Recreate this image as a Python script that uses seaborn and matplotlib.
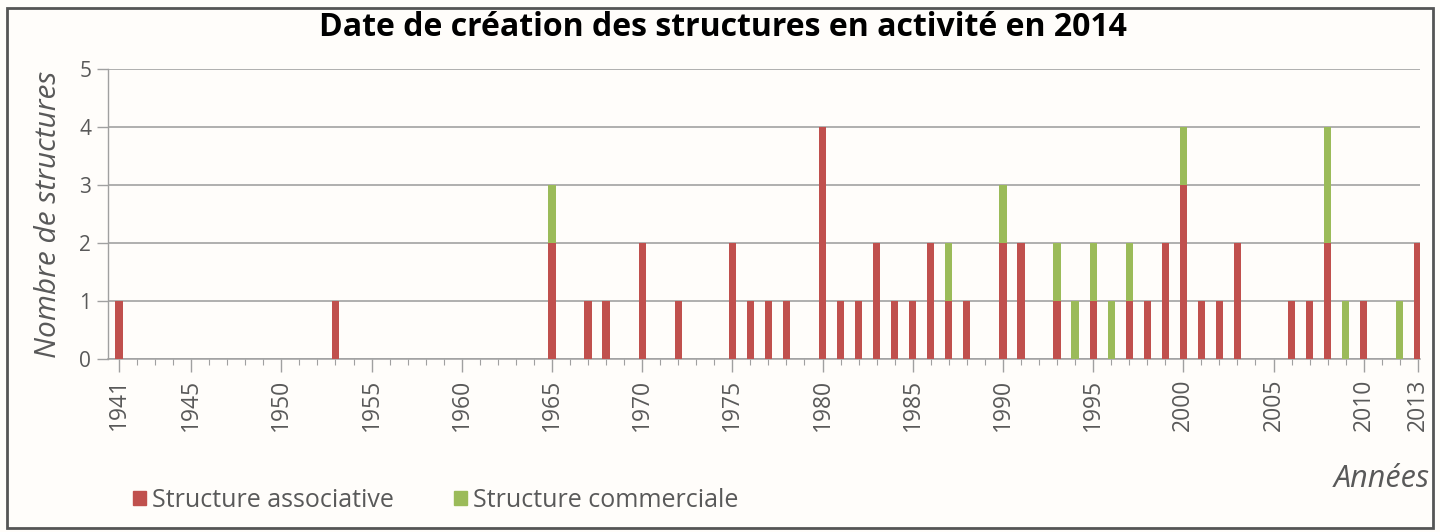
import matplotlib
matplotlib.use("Agg")
import matplotlib.pyplot as plt
import matplotlib.patches as mpatches
from matplotlib.ticker import MultipleLocator, FixedLocator
import seaborn as sns
import pandas as pd

# ---- data ----
years = [1941, 1953, 1965, 1967, 1968, 1970, 1972, 1975, 1976, 1977, 1978,
         1980, 1981, 1982, 1983, 1984, 1985, 1986, 1987, 1988, 1990, 1991,
         1993, 1994, 1995, 1996, 1997, 1998, 1999, 2000, 2001, 2002, 2003,
         2006, 2007, 2008, 2009, 2010, 2012, 2013]
associative = [1, 1, 2, 1, 1, 2, 1, 2, 1, 1, 1,
               4, 1, 1, 2, 1, 1, 2, 1, 1, 2, 2,
               1, 0, 1, 0, 1, 1, 2, 3, 1, 1, 2,
               1, 1, 2, 0, 1, 0, 2]
commerciale = [0, 0, 1, 0, 0, 0, 0, 0, 0, 0, 0,
               0, 0, 0, 0, 0, 0, 0, 1, 0, 1, 0,
               1, 1, 1, 1, 1, 0, 0, 1, 0, 0, 0,
               0, 0, 2, 1, 0, 1, 0]
tick_years = [1941, 1945, 1950, 1955, 1960, 1965, 1970, 1975, 1980,
              1985, 1990, 1995, 2000, 2005, 2010, 2013]
series_names = ["Structure associative", "Structure commerciale"]
title = "Date de création des structures en activité en 2014"

RED = "#C0504D"
GREEN = "#9BBB59"
GRAY = "#595959"
BG = "#FFFDFA"

df = pd.DataFrame({"year": years, "assoc": associative, "comm": commerciale})
df["total"] = df["assoc"] + df["comm"]

sns.set_style("white")
plt.rcParams["font.family"] = ["Open Sans", "DejaVu Sans"]

fig = plt.figure(figsize=(14.4, 5.32), dpi=100, facecolor=BG)
ax = fig.add_axes([0.075, 0.3252, 0.9111, 0.5451])
ax.set_facecolor(BG)

sns.barplot(data=df, x="year", y="total", native_scale=True, width=0.4,
            color=GREEN, saturation=1, ax=ax, zorder=3, linewidth=0)
sns.barplot(data=df, x="year", y="assoc", native_scale=True, width=0.4,
            color=RED, saturation=1, ax=ax, zorder=4, linewidth=0)

ax.set_xlim(1940.39, 2013.12)
ax.set_ylim(0, 5)
ax.yaxis.set_major_locator(MultipleLocator(1))
ax.grid(axis="y", color="#9a9a9a", linewidth=1.1, zorder=1)
ax.grid(axis="x", visible=False)

for s in ["top", "right"]:
    ax.spines[s].set_visible(False)
ax.spines["left"].set_color("#a0a0a0")
ax.spines["left"].set_linewidth(1.0)
ax.spines["bottom"].set_color("#a0a0a0")
ax.spines["bottom"].set_linewidth(1.1)

ax.xaxis.set_major_locator(FixedLocator(tick_years))
ax.xaxis.set_minor_locator(MultipleLocator(1))
ax.set_xticklabels([str(y) for y in tick_years], rotation=90, fontsize=16.5,
                   color=GRAY)
ax.tick_params(axis="x", which="major", bottom=True, length=9, width=1,
               color="#a0a0a0", pad=5)
ax.tick_params(axis="x", which="minor", bottom=True, length=4, width=0.8,
               color="#a0a0a0")
ax.tick_params(axis="y", left=True, length=8, width=1, color="#a0a0a0",
               labelsize=15, labelcolor=GRAY, pad=4)

ax.set_xlabel("")
ax.set_ylabel("Nombre de structures", fontsize=21.5, style="italic",
              color=GRAY, labelpad=12)

fig.text(0.5021, 0.948, title, ha="center", va="center", fontsize=23,
         fontweight="bold", color="black")
fig.text(0.993, 0.10, "Années", ha="right", va="center", fontsize=22,
         style="italic", color=GRAY)

handles = [mpatches.Patch(color=RED, label=series_names[0]),
           mpatches.Patch(color=GREEN, label=series_names[1])]
fig.legend(handles=handles, loc="center left", bbox_to_anchor=(0.077, 0.06),
           ncol=2, frameon=False, fontsize=18, handlelength=0.5,
           handleheight=0.5, handletextpad=0.25, columnspacing=2.4,
           labelcolor=GRAY)

# frame around the chart
fig.patches.append(mpatches.Rectangle((0.005, 0.008), 0.99, 0.977,
                                      transform=fig.transFigure, fill=False,
                                      edgecolor="#555555", linewidth=2))

fig.savefig("out.png", dpi=100, facecolor=BG)
